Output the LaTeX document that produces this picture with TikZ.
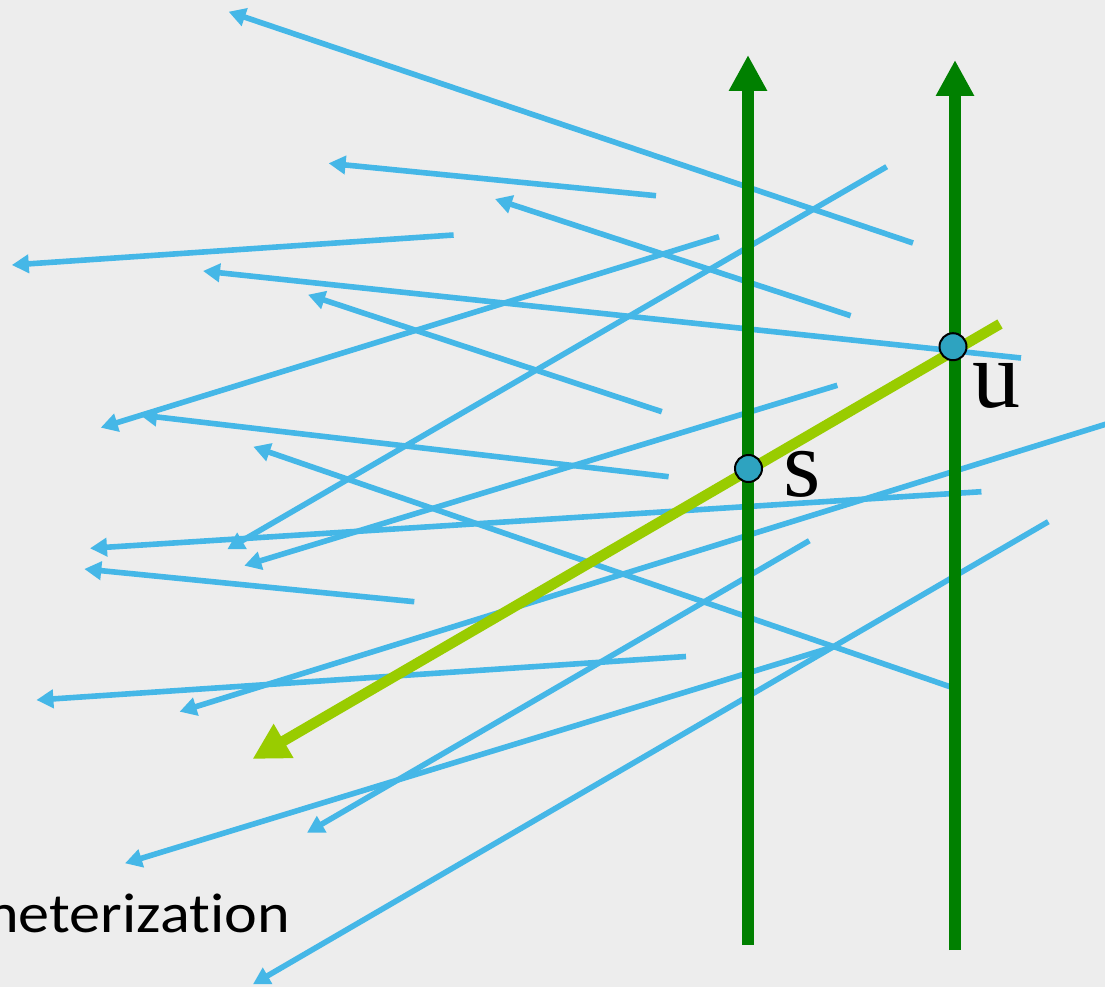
\documentclass[tikz,border=0pt]{standalone}
\usepackage{fontspec}
\setmainfont{Liberation Serif}
\newfontfamily\calib[FakeStretch=1.11,Ligatures=NoCommon]{Carlito}
\usetikzlibrary{arrows.meta}
\definecolor{cBg}{RGB}{237,237,237}
\definecolor{cRay}{RGB}{69,183,231}
\definecolor{cAxis}{RGB}{0,128,0}
\definecolor{cLime}{RGB}{153,204,0}
\definecolor{cDot}{RGB}{46,163,192}
\begin{document}
\begin{tikzpicture}[x=1pt,y=-1pt,
  rayline/.style={draw=cRay, line width=5.6pt, -{Triangle[length=17pt,width=18pt]}},
  axisline/.style={draw=cAxis, line width=12.5pt, -{Triangle[length=36pt,width=36pt]}},
  limeline/.style={draw=cLime, line width=10.5pt, -{Triangle[length=36pt,width=37pt]}},
  pointdot/.style={circle, draw=black, fill=cDot, line width=2pt, minimum size=27pt, inner sep=0pt},
  letter/.style={anchor=base west, inner sep=0pt, font=\fontsize{96}{96}\selectfont},
  caption/.style={anchor=base east, inner sep=0pt, font=\calib\fontsize{56}{56}\selectfont}
]
\useasboundingbox (0,0) rectangle (1105,987);
\fill[cBg] (0,0) rectangle (1105,987);

% ray end points (tail a, tip b)
\coordinate (a1) at (913,243);   \coordinate (b1) at (228.6,11.7);
\coordinate (a2) at (656,195.7); \coordinate (b2) at (328.6,163.3);
\coordinate (a3) at (850.6,315.7); \coordinate (b3) at (495,199);
\coordinate (a4) at (453.6,235); \coordinate (b4) at (11.8,265);
\coordinate (a5) at (1021,358);  \coordinate (b5) at (203,271);
\coordinate (a6) at (719,236.7); \coordinate (b6) at (100.7,427.7);
\coordinate (a7) at (886.7,166.7); \coordinate (b7) at (227.3,549.3);
\coordinate (a8) at (661.8,411.7); \coordinate (b8) at (308,294.7);
\coordinate (a9) at (668.6,476.7); \coordinate (b9) at (140,415);
\coordinate (a10) at (837.3,385.3); \coordinate (b10) at (244.3,565.7);
\coordinate (a11) at (950,686.7); \coordinate (b11) at (253.3,446.7);
\coordinate (a12) at (981.4,491.7); \coordinate (b12) at (90,548.3);
\coordinate (a13) at (414.3,601.7); \coordinate (b13) at (84.3,569);
\coordinate (a14) at (1108,423.5); \coordinate (b14) at (179.6,711.7);
\coordinate (a15) at (686,656.5); \coordinate (b15) at (36.4,700);
\coordinate (a16) at (809.3,540.7); \coordinate (b16) at (307,832.7);
\coordinate (a17) at (1048.3,521.7); \coordinate (b17) at (252.9,984.3);
\coordinate (a18) at (833,647); \coordinate (b18) at (125,863.3);

\foreach \i in {1,...,18} {\draw[rayline] (a\i) -- (b\i);}

% vertical axes
\coordinate (sBot) at (748,945); \coordinate (sTop) at (748,55);
\coordinate (uBot) at (955,950); \coordinate (uTop) at (955,60);
\draw[axisline] (sBot) -- (sTop);
\draw[axisline] (uBot) -- (uTop);

% the chosen ray
\coordinate (limeTail) at (1000,324); \coordinate (limeTip) at (252.5,759);
\draw[limeline] (limeTail) -- (limeTip);

\node[pointdot] (s) at (748.5,468.5) {};
\node[pointdot] (u) at (953,346.7) {};

\node[letter] (slabel) at (783,496) {s};
\node[letter] (ulabel) at (972,407) {u};

\node[caption] (cap) at (290,932.5) {neterization};
\end{tikzpicture}
\end{document}
